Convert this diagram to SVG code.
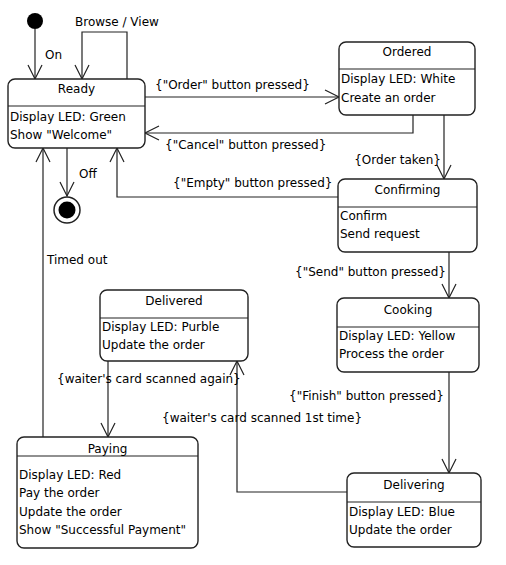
<svg xmlns="http://www.w3.org/2000/svg" width="506" height="565" viewBox="0 0 506 565">
<style>
text{font-family:"DejaVu Sans","Liberation Sans",sans-serif;font-size:12px;fill:#000}
.t{text-anchor:middle}
.box{fill:#fff;stroke:#222;stroke-width:1.4}
.div{stroke:#222;stroke-width:1.2}
.c{fill:none;stroke:#222;stroke-width:1.2}
</style>
<defs>
<marker id="a" markerUnits="userSpaceOnUse" viewBox="-16 -9 18 18" markerWidth="18" markerHeight="18" refX="0" refY="0" orient="auto">
<path d="M-14,-7 L0,0 L-14,7" fill="none" stroke="#222" stroke-width="1.2"/>
</marker>
</defs>
<rect width="506" height="565" fill="#fff"/>
<g id="connectors">
<path class="c" d="M35,29 V79" marker-end="url(#a)"/>
<path class="c" d="M127,79 V32 H82 V79" marker-end="url(#a)"/>
<path class="c" d="M145,97 H339" marker-end="url(#a)"/>
<path class="c" d="M413,115 V133 H145" marker-end="url(#a)"/>
<path class="c" d="M444,115 V179" marker-end="url(#a)"/>
<path class="c" d="M338,197 H117 V148" marker-end="url(#a)"/>
<path class="c" d="M67,148 V196" marker-end="url(#a)"/>
<path class="c" d="M449,252 V298" marker-end="url(#a)"/>
<path class="c" d="M449,372 V473" marker-end="url(#a)"/>
<path class="c" d="M347,492 H237 V361" marker-end="url(#a)"/>
<path class="c" d="M108,361 V437" marker-end="url(#a)"/>
<path class="c" d="M43,437 V148" marker-end="url(#a)"/>
<text x="45" y="59">On</text>
<text x="75" y="26">Browse / View</text>
<text x="79" y="178">Off</text>
<text x="155" y="89">{"Order" button pressed}</text>
<text x="165" y="149">{"Cancel" button pressed}</text>
<text x="441" y="164" text-anchor="end">{Order taken}</text>
<text x="173" y="187">{"Empty" button pressed}</text>
<text x="47" y="264">Timed out</text>
<text x="295" y="276">{"Send" button pressed}</text>
<text x="57" y="383">{waiter's card scanned again}</text>
<text x="289" y="400">{"Finish" button pressed}</text>
<text x="162" y="422">{waiter's card scanned 1st time}</text>
</g>
<g id="initial">
<circle cx="35" cy="21" r="8" fill="#000"/>
</g>
<g id="final">
<circle cx="67" cy="210" r="13" fill="#fff" stroke="#222" stroke-width="1.5"/>
<circle cx="67" cy="210" r="8.5" fill="#000"/>
</g>
<g id="ready">
<rect class="box" x="8" y="79" width="137" height="69" rx="7"/>
<line class="div" x1="8" y1="106" x2="145" y2="106"/>
<text class="t" x="76.5" y="93">Ready</text>
<text x="10" y="121">Display LED: Green</text>
<text x="10" y="139">Show "Welcome"</text>
</g>
<g id="ordered">
<rect class="box" x="339" y="42" width="136" height="73" rx="7"/>
<line class="div" x1="339" y1="69" x2="475" y2="69"/>
<text class="t" x="407" y="56">Ordered</text>
<text x="341" y="83">Display LED: White</text>
<text x="341" y="102">Create an order</text>
</g>
<g id="confirming">
<rect class="box" x="338" y="179" width="139" height="73" rx="7"/>
<line class="div" x1="338" y1="207" x2="477" y2="207"/>
<text class="t" x="407.5" y="194">Confirming</text>
<text x="340" y="220">Confirm</text>
<text x="340" y="238">Send request</text>
</g>
<g id="cooking">
<rect class="box" x="337" y="298" width="142" height="74" rx="7"/>
<line class="div" x1="337" y1="327" x2="479" y2="327"/>
<text class="t" x="408" y="314">Cooking</text>
<text x="339" y="340">Display LED: Yellow</text>
<text x="339" y="358">Process the order</text>
</g>
<g id="delivered">
<rect class="box" x="100" y="290" width="148" height="71" rx="7"/>
<line class="div" x1="100" y1="318" x2="248" y2="318"/>
<text class="t" x="174" y="305">Delivered</text>
<text x="102" y="331">Display LED: Purble</text>
<text x="102" y="349">Update the order</text>
</g>
<g id="paying">
<rect class="box" x="17" y="437" width="181" height="111" rx="7"/>
<line class="div" x1="17" y1="456" x2="198" y2="456"/>
<text class="t" x="107.5" y="453">Paying</text>
<text x="19" y="479">Display LED: Red</text>
<text x="19" y="497">Pay the order</text>
<text x="19" y="516">Update the order</text>
<text x="19" y="534">Show "Successful Payment"</text>
</g>
<g id="delivering">
<rect class="box" x="347" y="473" width="134" height="74" rx="7"/>
<line class="div" x1="347" y1="502" x2="481" y2="502"/>
<text class="t" x="414" y="489">Delivering</text>
<text x="349" y="516">Display LED: Blue</text>
<text x="349" y="534">Update the order</text>
</g>
</svg>
